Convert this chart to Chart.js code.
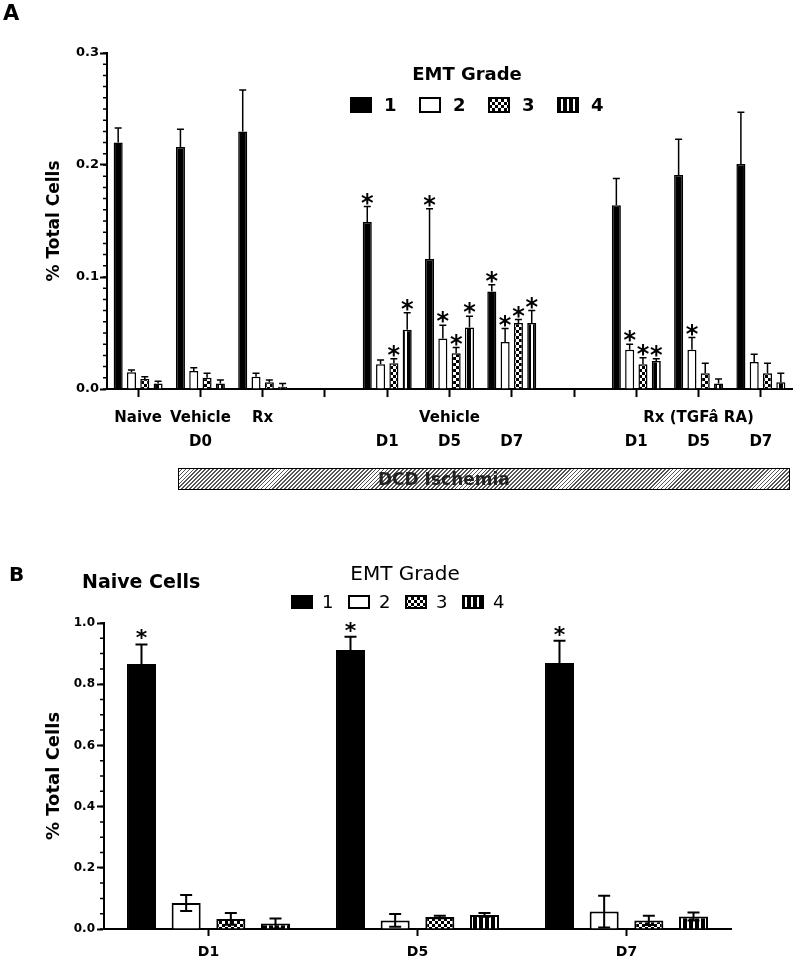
<!DOCTYPE html>
<html>
<head>
<meta charset="utf-8">
<script src="https://cdn.jsdelivr.net/npm/chart.js@4.4.0/dist/chart.umd.min.js"></script>
<style>
  body { margin: 0; background: #fff; }
  #wrap { position: relative; width: 800px; height: 973px; overflow: hidden; }
  canvas { position: absolute; left: 0; }
  #chartA { top: 0; }
  #chartB { top: 540px; }
  #dcd {
    position: absolute; left: 178px; top: 468px; width: 612px; height: 22px;
    box-sizing: border-box; border: 1.5px solid #000;
    background: repeating-linear-gradient(135deg, #fff 0 1.5px, #555 1.5px 2.8px);
    font-family: 'DejaVu Sans', sans-serif; font-size: 17px; font-weight: bold; color: #222;
  }
  #dcd span { position: absolute; left: 199px; top: -1px; line-height: 22px; }
</style>
</head>
<body>
<div id="wrap">
  <canvas id="chartA" width="800" height="500"></canvas>
  <div id="dcd"><span>DCD Ischemia</span></div>
  <canvas id="chartB" width="800" height="433"></canvas>
</div>
<script>
// ---- panel A data (EMT grade, % total cells) ----
const aLabels = [['Naive', ''], ['Vehicle', 'D0'], ['Rx', ''], '', ['', 'D1'], ['Vehicle', 'D5'], ['', 'D7'], '',
  ['', 'D1'], ['Rx (TGFâ RA)', 'D5'], ['', 'D7']];
const gradeNames = ['1', '2', '3', '4'];

const aGrade1 = [0.220, 0.216, 0.230, null, 0.149, 0.116, 0.087, null, 0.164, 0.191, 0.201];
const aGrade2 = [0.015, 0.016, 0.011, null, 0.022, 0.045, 0.042, null, 0.035, 0.035, 0.024];
const aGrade3 = [0.009, 0.010, 0.006, null, 0.023, 0.032, 0.059, null, 0.022, 0.014, 0.014];
const aGrade4 = [0.005, 0.005, 0.002, null, 0.053, 0.055, 0.059, null, 0.025, 0.005, 0.006];

const aErr1 = [0.013, 0.016, 0.037, null, 0.014, 0.045, 0.006, null, 0.024, 0.032, 0.046];
const aErr2 = [0.002, 0.003, 0.003, null, 0.004, 0.012, 0.012, null, 0.005, 0.011, 0.007];
const aErr3 = [0.002, 0.004, 0.002, null, 0.004, 0.005, 0.003, null, 0.006, 0.009, 0.009];
const aErr4 = [0.002, 0.003, 0.003, null, 0.015, 0.010, 0.011, null, 0.002, 0.004, 0.008];

// significance stars
const aStar1 = [0, 0, 0, 0, 1, 1, 1, 0, 0, 0, 0];
const aStar2 = [0, 0, 0, 0, 0, 1, 1, 0, 1, 1, 0];
const aStar3 = [0, 0, 0, 0, 1, 1, 1, 0, 1, 0, 0];
const aStar4 = [0, 0, 0, 0, 1, 1, 1, 0, 1, 0, 0];

const aTicks = [0, 0.1, 0.2, 0.3];

// ---- panel B data (naive cells) ----
const bLabels = ['D1', 'D5', 'D7'];
const bGrade1 = [0.866, 0.912, 0.869];
const bGrade2 = [0.085, 0.028, 0.057];
const bGrade3 = [0.033, 0.039, 0.028];
const bGrade4 = [0.018, 0.046, 0.041];
const bErr1 = [0.064, 0.043, 0.073];
const bErr2 = [0.026, 0.021, 0.052];
const bErr3 = [0.019, 0.004, 0.015];
const bErr4 = [0.016, 0.006, 0.013];
const bStar1 = [1, 1, 1];
const bStar0 = [0, 0, 0];

const FONT = "'DejaVu Sans', sans-serif";
Chart.defaults.font.family = FONT;
Chart.defaults.color = '#000';

function makeFills(ctx) {
  const chk = document.createElement('canvas');
  chk.width = 6; chk.height = 6;
  let g = chk.getContext('2d');
  g.fillStyle = '#fff'; g.fillRect(0, 0, 6, 6);
  g.fillStyle = '#000'; g.fillRect(0, 0, 3, 3); g.fillRect(3, 3, 3, 3);

  const str = document.createElement('canvas');
  str.width = 6; str.height = 6;
  g = str.getContext('2d');
  g.fillStyle = '#000'; g.fillRect(0, 0, 6, 6);
  g.fillStyle = '#fff'; g.fillRect(3, 0, 2, 6);

  return ['#000', '#fff', ctx.createPattern(chk, 'repeat'), ctx.createPattern(str, 'repeat')];
}

// error whiskers + stars
const errorBars = {
  id: 'errorBars',
  afterDatasetsDraw(chart, args, o) {
    const ctx = chart.ctx, y = chart.scales.y;
    chart.data.datasets.forEach((ds, i) => {
      chart.getDatasetMeta(i).data.forEach((bar, j) => {
        const v = ds.data[j];
        if (v == null) return;
        const e = ds.errors[j];
        const yTop = y.getPixelForValue(v + e);
        const yBot = o.both ? y.getPixelForValue(Math.max(v - e, 0)) : bar.y;
        ctx.save();
        ctx.strokeStyle = '#000';
        ctx.lineWidth = o.width;
        ctx.beginPath();
        ctx.moveTo(bar.x, yBot); ctx.lineTo(bar.x, yTop);
        ctx.moveTo(bar.x - o.cap, yTop); ctx.lineTo(bar.x + o.cap, yTop);
        if (o.both) { ctx.moveTo(bar.x - o.cap, yBot); ctx.lineTo(bar.x + o.cap, yBot); }
        ctx.stroke();
        if (ds.stars[j]) {
          ctx.fillStyle = '#000';
          ctx.font = 'bold ' + o.starSize + 'px ' + FONT;
          ctx.textAlign = 'center';
          ctx.textBaseline = 'alphabetic';
          ctx.fillText('*', bar.x, yTop - o.starLift + 0.59 * o.starSize);
        }
        ctx.restore();
      });
    });
  }
};

const minorTicks = {
  id: 'minorTicks',
  afterDraw(chart, args, o) {
    const ctx = chart.ctx, s = chart.scales.y;
    ctx.save();
    ctx.strokeStyle = '#000';
    ctx.lineWidth = 1.5;
    ctx.beginPath();
    const n = Math.round(s.max / o.step);
    for (let k = 0; k <= n; k++) {
      const py = s.getPixelForValue(k * o.step);
      ctx.moveTo(s.right - o.len, py); ctx.lineTo(s.right, py);
    }
    ctx.stroke();
    ctx.restore();
  }
};

const gradeLegend = {
  id: 'gradeLegend',
  afterDraw(chart, args, o) {
    const ctx = chart.ctx;
    ctx.save();
    ctx.fillStyle = '#000';
    ctx.font = o.titleFont;
    ctx.textAlign = 'center';
    ctx.textBaseline = 'alphabetic';
    ctx.fillText('EMT Grade', o.titleX, o.titleY);
    chart.data.datasets.forEach((ds, i) => {
      const bx = o.x + i * o.gap;
      ctx.fillStyle = ds.backgroundColor;
      ctx.fillRect(bx, o.y - o.boxH / 2, o.boxW, o.boxH);
      ctx.strokeStyle = '#000';
      ctx.lineWidth = 2;
      ctx.strokeRect(bx, o.y - o.boxH / 2, o.boxW, o.boxH);
      ctx.fillStyle = '#000';
      ctx.font = o.font;
      ctx.textAlign = 'left';
      ctx.textBaseline = 'middle';
      ctx.fillText(ds.label, bx + o.textOff, o.y + 1);
    });
    ctx.restore();
  }
};

const texts = {
  id: 'texts',
  afterDraw(chart, args, o) {
    const ctx = chart.ctx;
    ctx.save();
    ctx.fillStyle = '#000';
    ctx.textAlign = 'left';
    ctx.textBaseline = 'alphabetic';
    o.items.forEach(t => { ctx.font = t.font; ctx.fillText(t.text, t.x, t.y); });
    ctx.restore();
  }
};

// ---- chart A ----
const ctxA = document.getElementById('chartA').getContext('2d');
const fillsA = makeFills(ctxA);
const aValues = [aGrade1, aGrade2, aGrade3, aGrade4];
const aErrors = [aErr1, aErr2, aErr3, aErr4];
const aStars = [aStar1, aStar2, aStar3, aStar4];

new Chart(ctxA, {
  type: 'bar',
  data: {
    labels: aLabels,
    datasets: gradeNames.map((g, i) => ({
      label: g,
      data: aValues[i],
      errors: aErrors[i],
      stars: aStars[i],
      backgroundColor: fillsA[i],
      borderColor: '#000',
      borderWidth: 1.5,
      categoryPercentage: 0.855,
      barPercentage: 0.68
    }))
  },
  options: {
    responsive: false,
    animation: false,
    layout: { padding: { left: 40, right: 8, top: 53, bottom: 0 } },
    plugins: {
      legend: { display: false },
      tooltip: { enabled: false },
      errorBars: { width: 1.5, cap: 3.5, both: false, starSize: 24, starLift: 10 },
      minorTicks: { step: 0.01, len: 4 },
      gradeLegend: { titleX: 467, titleY: 80, titleFont: 'bold 18px ' + FONT, font: 'bold 18px ' + FONT,
        x: 351, y: 105, gap: 69, boxW: 20, boxH: 14, textOff: 33 },
      texts: { items: [{ text: 'A', x: 3, y: 20, font: 'bold 21px ' + FONT }] }
    },
    scales: {
      x: {
        grid: { offset: false, drawOnChartArea: false, tickLength: 8, tickWidth: 2, tickColor: '#000' },
        border: { color: '#000', width: 2 },
        ticks: { color: '#000', font: { size: 15, weight: 'bold', lineHeight: 1.6 }, padding: 9,
          maxRotation: 0, minRotation: 0, autoSkip: false },
        afterFit: s => { s.height = 111; }
      },
      y: {
        min: 0, max: 0.3,
        afterBuildTicks: s => { s.ticks = aTicks.map(v => ({ value: v })); },
        ticks: { color: '#000', font: { size: 13, weight: 'bold' }, padding: 1, callback: v => Number(v).toFixed(1) },
        grid: { drawOnChartArea: false, tickLength: 7, tickWidth: 2, tickColor: '#000' },
        border: { color: '#000', width: 2 },
        title: { display: true, text: '% Total Cells', color: '#000', font: { size: 17, weight: 'bold' } },
        afterFit: s => { s.width = 67; }
      }
    }
  },
  plugins: [errorBars, minorTicks, gradeLegend, texts]
});

// ---- chart B ----
const ctxB = document.getElementById('chartB').getContext('2d');
const fillsB = makeFills(ctxB);
const bValues = [bGrade1, bGrade2, bGrade3, bGrade4];
const bErrors = [bErr1, bErr2, bErr3, bErr4];
const bStars = [bStar1, bStar0, bStar0, bStar0];
const bTicks = [0, 0.2, 0.4, 0.6, 0.8, 1.0];

new Chart(ctxB, {
  type: 'bar',
  data: {
    labels: bLabels,
    datasets: gradeNames.map((g, i) => ({
      label: g,
      data: bValues[i],
      errors: bErrors[i],
      stars: bStars[i],
      backgroundColor: fillsB[i],
      borderColor: '#000',
      borderWidth: 2,
      categoryPercentage: 0.855,
      barPercentage: 0.65
    }))
  },
  options: {
    responsive: false,
    animation: false,
    layout: { padding: { left: 40, right: 69, top: 83, bottom: 0 } },
    plugins: {
      legend: { display: false },
      tooltip: { enabled: false },
      errorBars: { width: 2, cap: 6, both: true, starSize: 22, starLift: 12 },
      minorTicks: { step: 0.05, len: 4 },
      gradeLegend: { titleX: 405, titleY: 40, titleFont: '20px ' + FONT, font: '18px ' + FONT,
        x: 292, y: 62, gap: 57, boxW: 20, boxH: 12, textOff: 30 },
      texts: { items: [
        { text: 'B', x: 9, y: 41, font: 'bold 20px ' + FONT },
        { text: 'Naive Cells', x: 82, y: 48, font: 'bold 19px ' + FONT }
      ] }
    },
    scales: {
      x: {
        grid: { offset: false, drawOnChartArea: false, tickLength: 7, tickWidth: 2, tickColor: '#000' },
        border: { color: '#000', width: 2 },
        ticks: { color: '#000', font: { size: 14, weight: 'bold' }, padding: 8, maxRotation: 0 },
        afterFit: s => { s.height = 44; }
      },
      y: {
        min: 0, max: 1,
        afterBuildTicks: s => { s.ticks = bTicks.map(v => ({ value: v })); },
        ticks: { color: '#000', font: { size: 12, weight: 'bold' }, padding: 2, callback: v => Number(v).toFixed(1) },
        grid: { drawOnChartArea: false, tickLength: 7, tickWidth: 2, tickColor: '#000' },
        border: { color: '#000', width: 2 },
        title: { display: true, text: '% Total Cells', color: '#000', font: { size: 18, weight: 'bold' } },
        afterFit: s => { s.width = 64; }
      }
    }
  },
  plugins: [errorBars, minorTicks, gradeLegend, texts]
});
</script>
</body>
</html>
